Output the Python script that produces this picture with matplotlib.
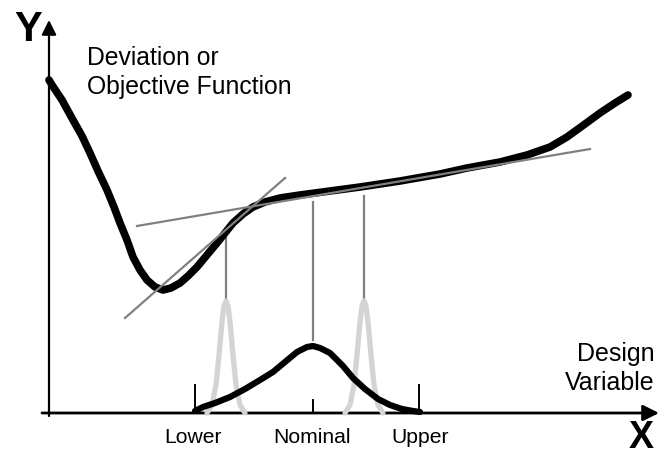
import matplotlib
matplotlib.use("Agg")
import matplotlib.pyplot as plt

# Data in picture coordinates (x to the right, y downward)
curve_x = [49, 52, 62, 73, 82, 90, 98, 107, 114, 120, 127, 133, 140, 147, 155, 163, 171, 180, 188, 197, 207, 217,
           225, 233, 243, 253, 265, 280, 300, 330, 360, 400, 440, 467, 500, 527, 550, 567, 585, 600, 615, 628]
curve_y = [80, 85, 100, 120, 136, 153, 171, 190, 207, 223, 240, 257, 270, 280, 287, 290, 288, 283, 276, 267, 255, 243,
           233, 223, 214, 207, 202, 198, 195, 191, 187, 181, 174, 168, 162, 155, 147, 137, 124, 113, 103, 95]

tan1_x = [125, 285]
tan1_y = [318, 178]
tan2_x = [137, 590]
tan2_y = [226, 149]

vlines_x = [226, 313, 364]
vlines_top = [236, 202, 196]
vlines_bot = [300, 340, 300]

peakL_x = [207, 212, 216, 219, 222, 224, 226, 228, 230, 233, 236, 240, 245]
peakR_x = [345, 350, 354, 357, 360, 362, 364, 366, 368, 371, 374, 378, 383]
peak_y = [413, 405, 385, 355, 322, 306, 301, 306, 322, 355, 385, 405, 413]

bell_x = [195, 203, 215, 230, 245, 260, 273, 285, 297, 307, 313, 320, 330, 343, 353, 365, 378, 390, 402, 413, 420]
bell_y = [411, 407, 403, 397, 389, 380, 372, 362, 352, 347, 346, 348, 353, 366, 378, 389, 399, 405, 409, 411, 412]

tick_labels = ["Lower", "Nominal", "Upper"]
tick_x = [195, 313, 419]
tick_top = [385, 400, 385]

W, H = 668, 457
fig = plt.figure(figsize=(W / 100, H / 100), dpi=100)
ax = fig.add_axes([0, 0, 1, 1])
ax.set_xlim(0, W)
ax.set_ylim(H, 0)
ax.axis("off")

font = "Liberation Sans"

# axes with arrows
ax.annotate("", xy=(49, 20), xytext=(49, 416),
            arrowprops=dict(arrowstyle="-|>", lw=1.6, color="black", mutation_scale=22, shrinkA=0, shrinkB=0))
ax.annotate("", xy=(659, 413), xytext=(42, 413),
            arrowprops=dict(arrowstyle="-|>", lw=2.0, color="black", mutation_scale=24, shrinkA=0, shrinkB=0))

# ticks
for x, t in zip(tick_x, tick_top):
    ax.plot([x, x], [t, 413], color="black", lw=1.4)

# gray narrow peaks
ax.plot(peakL_x, peak_y, color="#d4d4d4", lw=3.8, solid_capstyle="round", zorder=3)
ax.plot(peakR_x, peak_y, color="#d4d4d4", lw=3.8, solid_capstyle="round", zorder=3)

# bell curve
ax.plot(bell_x, bell_y, color="black", lw=4.5, solid_capstyle="round", zorder=4)

# vertical gray lines
for x, t, b in zip(vlines_x, vlines_top, vlines_bot):
    ax.plot([x, x], [t, b], color="#808080", lw=1.6, zorder=2)

# main curve
ax.plot(curve_x, curve_y, color="black", lw=5.5, solid_capstyle="round", solid_joinstyle="round", zorder=5)

# tangents
ax.plot(tan1_x, tan1_y, color="#808080", lw=1.6, zorder=6)
ax.plot(tan2_x, tan2_y, color="#808080", lw=1.6, zorder=6)

# text
ax.text(28, 41, "Y", fontsize=30, fontweight="bold", family=font, ha="center", va="baseline")
ax.text(641, 456.5, "X", fontsize=27, fontweight="bold", family=font, ha="center", va="bottom")
ax.text(87, 65, "Deviation or", fontsize=17.8, family=font, ha="left", va="baseline")
ax.text(87, 94, "Objective Function", fontsize=17.8, family=font, ha="left", va="baseline")
ax.text(655, 361, "Design", fontsize=18, family=font, ha="right", va="baseline")
ax.text(655, 390, "Variable", fontsize=18, family=font, ha="right", va="baseline")
for x, lab in zip([193, 312, 420], tick_labels):
    ax.text(x, 443, lab, fontsize=15.2, family=font, ha="center", va="baseline")

fig.savefig("out.png", dpi=100)
